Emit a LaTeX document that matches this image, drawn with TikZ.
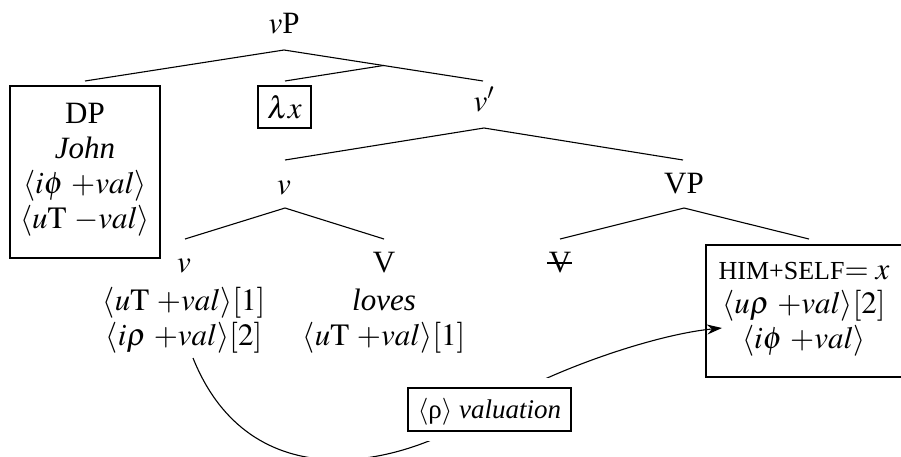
\documentclass[tikz,border=0pt]{standalone}
\usepackage{mathptmx}
\usepackage{fontspec}
\setmainfont{Liberation Serif}
\usetikzlibrary{arrows.meta,calc}
\begin{document}
\begin{tikzpicture}[x=1pt,y=-1pt,
  every node/.style={inner sep=0pt,outer sep=0pt},
  lab/.style={anchor=base,font=\fontsize{31}{36}\selectfont},
  smalllab/.style={anchor=base,font=\fontsize{27}{32}\selectfont},
  box/.style={draw,line width=1.4pt,inner sep=0pt},
  branch/.style={line width=1.1pt},
  link/.style={line width=1.1pt}]
\useasboundingbox (0,0) rectangle (901,456);
% root
\node[lab] (vP) at (284,33) {$v$P};
\coordinate (vPb) at (284,50);
% DP box
\node[box,minimum width=150pt,minimum height=172pt] (dpbox) at (85,172) {};
\node[lab] (dp1) at (85,123) {DP};
\node[lab] (dp2) at (85,158) {\textit{John}};
\node[lab] (dp3) at (85,193) {$\langle i\phi\ {+}val\rangle$};
\node[lab] (dp4) at (85,228) {$\langle u\mathrm{T}\ {-}val\rangle$};
\coordinate (dpt) at (85,81);
% lambda x
\node[box,minimum width=53pt,minimum height=42pt] (lam) at (284.5,107) {};
\node[lab] (lamtxt) at (284.5,118) {$\lambda x$};
\coordinate (lamt) at (285,81);
% v'
\node[lab] (vbar) at (484,111) {$v'$};
\coordinate (vbart) at (483,81);
\coordinate (vbarb) at (484,128);
\coordinate (adj) at ($(vPb)!0.5!(vbart)$);
% v mid
\node[lab] (vmid) at (284,194) {$v$};
\coordinate (vmidt) at (285,160);
\coordinate (vmidb) at (285,208);
% VP
\node[lab] (VP) at (684,193) {VP};
\coordinate (VPt) at (683,160);
\coordinate (VPb) at (684,208);
% lower v
\node[lab] (vlow) at (184,272) {$v$};
\node[lab] (vlow1) at (184,310) {$\langle u\mathrm{T}\ {+}val\rangle[1]$};
\node[lab] (vlow2) at (184,345) {$\langle i\rho\ {+}val\rangle[2]$};
\coordinate (vlowt) at (185,239);
% V
\node[lab] (V) at (384,272) {V};
\node[lab] (V1) at (384,310) {\textit{loves}};
\node[lab] (V2) at (384,345) {$\langle u\mathrm{T}\ {+}val\rangle[1]$};
\coordinate (Vt) at (384,239);
% struck V
\node[lab] (Vs) at (560,272) {V};
\coordinate (strL) at (547,263);
\coordinate (strR) at (572,263);
\coordinate (Vst) at (560,239);
% HIM+SELF box
\node[box,minimum width=196pt,minimum height=132pt] (himbox) at (804,311) {};
\node[lab] (h1) at (804,279) {{\fontsize{26}{30}\selectfont HIM+SELF}$=x$};
\node[lab] (h2) at (804,313) {$\langle u\rho\ {+}val\rangle[2]$};
\node[lab] (h3) at (804,348) {$\langle i\phi\ {+}val\rangle$};
\coordinate (himt) at (809,239);
% tree branches
\draw[branch] (dpt) -- (vPb) -- (vbart);
\draw[branch] (lamt) -- (adj);
\draw[branch] (vmidt) -- (vbarb) -- (VPt);
\draw[branch] (vlowt) -- (vmidb) -- (Vt);
\draw[branch] (Vst) -- (VPb) -- (himt);
\draw[line width=1.1pt] (strL) -- (strR);
% valuation link
\coordinate (ls) at (193,358);
\coordinate (lm) at (489,409);
\coordinate (le) at (722,328);
\draw[link,-{Stealth[length=15pt,width=10pt]}] (ls) .. controls (250,500) and (400,470) .. (lm)
   .. controls (539,375) and (650,335) .. (le);
\node[box,fill=white,preaction={draw=white,line width=20pt},minimum width=163pt,minimum height=43pt] (val) at (489.5,409.5) {};
\node[smalllab] (valtxt) at (489.5,418) {$\langle$ρ$\rangle$ \textit{valuation}};
\end{tikzpicture}
\end{document}
